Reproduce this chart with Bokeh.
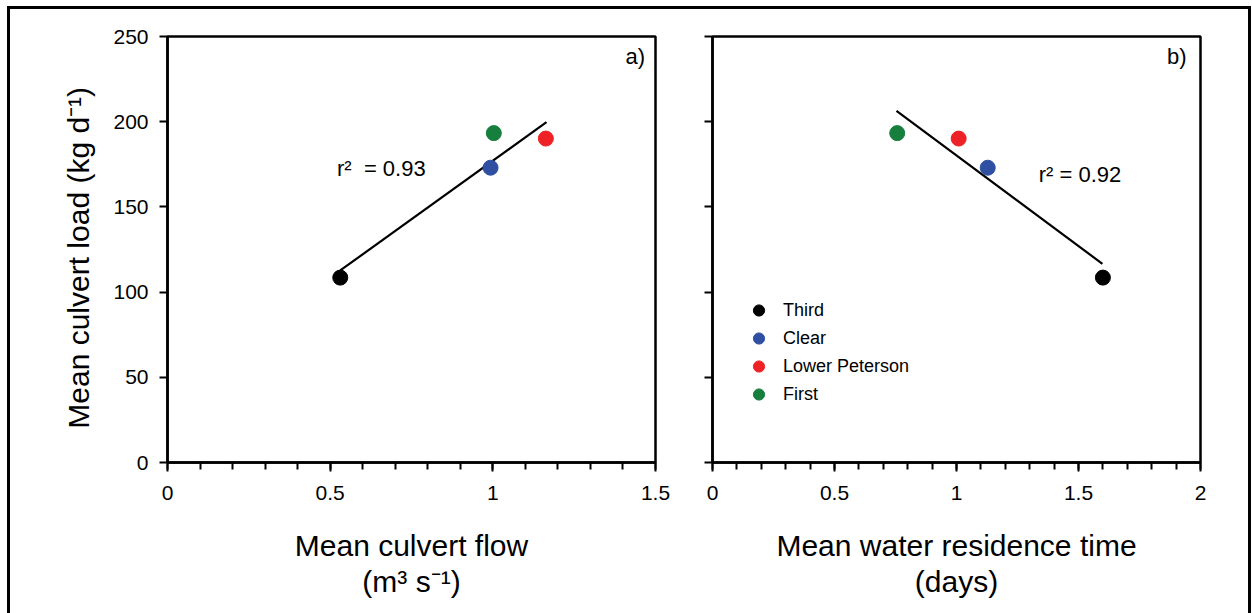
from bokeh.plotting import figure
from bokeh.models import (Range1d, FixedTicker, NumeralTickFormatter, CustomJSTickFormatter,
                          ColumnDataSource, Legend, LegendItem, Label)
from bokeh.layouts import row
from bokeh.embed import file_html
from bokeh.resources import INLINE

# ---- data ----
sites = ["Third", "Clear", "Lower Peterson", "First"]
colors = ["#000000", "#2F4FA3", "#EE2226", "#167F3D"]
culvert_flow = [0.531, 0.993, 1.163, 1.003]          # m3 s-1
residence_time = [1.600, 1.128, 1.009, 0.757]        # days
culvert_load = [108.5, 173.0, 190.1, 193.3]          # kg d-1

fit_a_x = [0.531, 1.165]
fit_a_y = [112.7, 199.7]
fit_b_x = [0.754, 1.598]
fit_b_y = [206.4, 116.6]

r2_a = "r\u00b2\u00a0\u00a0= 0.93"
r2_b = "r\u00b2 = 0.92"

xa_ticks = [0, 0.5, 1, 1.5]
xa_minor = [0, 0.1, 0.2, 0.3, 0.4, 0.5, 0.6, 0.7, 0.8, 0.9, 1.0, 1.1, 1.2, 1.3, 1.4, 1.5]
xb_ticks = [0, 0.5, 1, 1.5, 2]
xb_minor = [0, 0.1, 0.2, 0.3, 0.4, 0.5, 0.6, 0.7, 0.8, 0.9, 1.0, 1.1, 1.2, 1.3, 1.4, 1.5,
            1.6, 1.7, 1.8, 1.9, 2.0]
y_ticks = [0, 50, 100, 150, 200, 250]

FONT = "Liberation Sans"


def style(p, xticks, xminor):
    p.grid.visible = False
    p.outline_line_color = "black"
    p.outline_line_width = 2.5
    p.outline_line_alpha = 1
    p.background_fill_color = "white"
    p.border_fill_color = "white"
    for ax in (p.xaxis[0], p.yaxis[0]):
        ax.axis_line_width = 2.5
        ax.major_tick_line_width = 2
        ax.minor_tick_line_width = 2
        ax.major_tick_in = 0
        ax.minor_tick_in = 0
        ax.major_label_text_font = FONT
        ax.major_label_text_font_size = "21px"
        ax.major_label_text_color = "black"
        ax.axis_label_text_font = FONT
        ax.axis_label_text_font_size = "30px"
        ax.axis_label_text_font_style = "normal"
        ax.axis_label_text_color = "black"
        ax.axis_label_text_line_height = 1.1
    xa = p.xaxis[0]
    xa.ticker = FixedTicker(ticks=xticks, minor_ticks=xminor)
    xa.formatter = NumeralTickFormatter(format="0.[0]")
    xa.major_tick_out = 9
    xa.minor_tick_out = 7
    xa.major_label_standoff = 14
    xa.axis_label_standoff = 26
    ya = p.yaxis[0]
    ya.ticker = FixedTicker(ticks=y_ticks, minor_ticks=[])
    ya.major_tick_out = 8
    ya.minor_tick_out = 0
    ya.major_label_standoff = 11


src = ColumnDataSource(dict(flow=culvert_flow, res=residence_time, load=culvert_load,
                            color=colors, site=sites))

# ---- panel a ----
pa = figure(width=680, height=604, x_range=Range1d(0, 1.5), y_range=Range1d(0, 250),
            output_backend="svg", toolbar_location=None,
            min_border_left=157, min_border_right=35, min_border_top=27, min_border_bottom=151)
style(pa, xa_ticks, xa_minor)
pa.xaxis.axis_label = "Mean culvert flow\n(m\u00b3 s\u207b\u00b9)"
pa.yaxis.axis_label = "Mean culvert load (kg d\u207b\u00b9)\u00a0\u00a0"
pa.yaxis.axis_label_standoff = 15
pa.line(fit_a_x, fit_a_y, line_color="black", line_width=2.2)
pa.scatter("flow", "load", source=src, size=15, fill_color="color", line_color="color")
pa.add_layout(Label(x=0.521, y=172.4, text=r2_a, text_font=FONT, text_font_size="22px",
                    text_color="black", text_baseline="alphabetic", text_align="left"))
pa.add_layout(Label(x=1.468, y=238, text="a)", text_font=FONT, text_font_size="22px",
                    text_color="black", text_baseline="alphabetic", text_align="right"))

# ---- panel b ----
pb = figure(width=558, height=604, x_range=Range1d(0, 2), y_range=Range1d(0, 250),
            output_backend="svg", toolbar_location=None,
            min_border_left=22, min_border_right=48, min_border_top=27, min_border_bottom=151)
style(pb, xb_ticks, xb_minor)
pb.xaxis.axis_label = "Mean water residence time\n(days)"
pb.yaxis.formatter = CustomJSTickFormatter(code="return ''")
pb.line(fit_b_x, fit_b_y, line_color="black", line_width=2.2)
rb = pb.scatter("res", "load", source=src, size=15, fill_color="color", line_color="color")
pb.add_layout(Label(x=1.337, y=169.2, text=r2_b, text_font=FONT, text_font_size="22px",
                    text_color="black", text_baseline="alphabetic", text_align="left"))
pb.add_layout(Label(x=1.943, y=238, text="b)", text_font=FONT, text_font_size="22px",
                    text_color="black", text_baseline="alphabetic", text_align="right"))

legend = Legend(items=[LegendItem(label=s, renderers=[rb], index=i) for i, s in enumerate(sites)],
                location=(30, 54), orientation="vertical",
                glyph_width=33, glyph_height=28, spacing=0, label_standoff=8,
                label_text_font=FONT, label_text_font_size="18px", label_text_color="black",
                padding=0, margin=0, border_line_color=None, background_fill_alpha=0)
pb.add_layout(legend, "center")

root = row(pa, pb, styles={"margin-left": "7px", "margin-top": "6px",
                           "border-left": "3px solid black", "border-top": "3px solid black",
                           "border-right": "3px solid black"})

open("out.html", "w").write(file_html(root, INLINE))
